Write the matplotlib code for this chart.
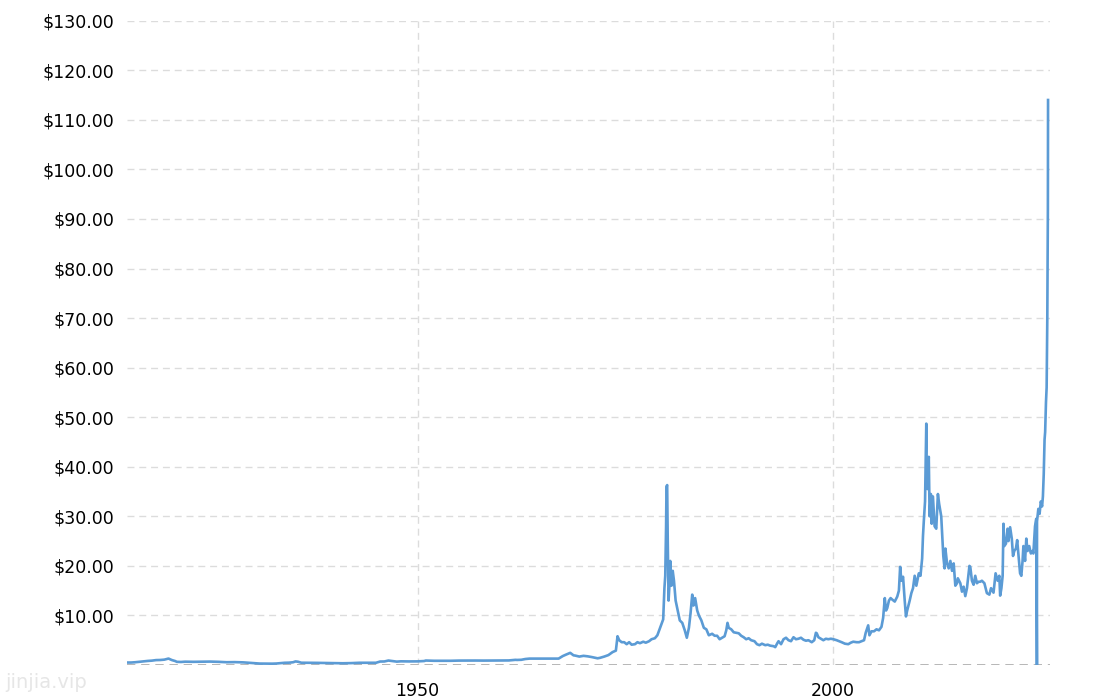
import matplotlib.pyplot as plt
import numpy as np

# silver price history (nominal, USD/oz)
anos = [1915.0, 1915.5, 1916.0, 1916.5, 1917.0, 1917.5, 1918.0, 1918.5, 1919.0, 1919.5,
        1920.0, 1920.4, 1920.8, 1921.0, 1921.5, 1922.0, 1923.0, 1924.0, 1925.0, 1926.0,
        1927.0, 1928.0, 1929.0, 1930.0, 1930.5, 1931.0, 1931.5, 1932.0, 1932.5, 1933.0,
        1933.5, 1934.0, 1934.5, 1935.0, 1935.3, 1935.6, 1936.0, 1937.0, 1938.0, 1939.0,
        1940.0, 1941.0, 1942.0, 1943.0, 1944.0, 1945.0, 1945.5, 1946.0, 1946.5, 1947.0,
        1947.5, 1948.0, 1949.0, 1950.0, 1950.8, 1951.0, 1952.0, 1953.0, 1954.0, 1955.0,
        1956.0, 1957.0, 1958.0, 1959.0, 1960.0, 1961.0, 1961.8, 1962.0, 1962.5, 1963.0,
        1963.5, 1964.0, 1965.0, 1966.0, 1967.0, 1967.5, 1967.9, 1968.4, 1968.8, 1969.0,
        1969.5, 1970.0, 1970.5, 1971.0, 1971.7, 1972.0, 1972.5, 1973.0, 1973.5, 1973.9,
        1974.1, 1974.3, 1974.6, 1974.9, 1975.2, 1975.5, 1975.8, 1976.2, 1976.5, 1976.8,
        1977.2, 1977.5, 1977.9, 1978.2, 1978.6, 1978.9, 1979.3, 1979.6, 1979.75, 1979.85,
        1979.95, 1980.0, 1980.08, 1980.15, 1980.25, 1980.35, 1980.45, 1980.6, 1980.75, 1980.9,
        1981.1, 1981.35, 1981.6, 1981.9, 1982.2, 1982.45, 1982.7, 1982.9, 1983.1, 1983.25,
        1983.45, 1983.7, 1983.9, 1984.2, 1984.5, 1984.8, 1985.1, 1985.5, 1985.8, 1986.1,
        1986.4, 1986.8, 1987.0, 1987.2, 1987.35, 1987.5, 1987.8, 1988.1, 1988.4, 1988.7,
        1989.0, 1989.3, 1989.6, 1989.9, 1990.2, 1990.6, 1990.9, 1991.2, 1991.5, 1991.9,
        1992.2, 1992.5, 1992.9, 1993.1, 1993.35, 1993.5, 1993.8, 1994.1, 1994.4, 1994.7,
        1995.0, 1995.3, 1995.6, 1995.9, 1996.2, 1996.5, 1996.8, 1997.1, 1997.5, 1997.8,
        1998.0, 1998.1, 1998.3, 1998.6, 1998.9, 1999.2, 1999.5, 1999.8, 2000.1, 2000.5,
        2000.8, 2001.1, 2001.5, 2001.9, 2002.2, 2002.5, 2002.9, 2003.2, 2003.5, 2003.8,
        2004.0, 2004.3, 2004.45, 2004.7, 2005.0, 2005.3, 2005.6, 2005.9, 2006.1, 2006.3,
        2006.45, 2006.6, 2006.8, 2007.0, 2007.2, 2007.5, 2007.8, 2008.0, 2008.15, 2008.3,
        2008.5, 2008.7, 2008.85, 2009.0, 2009.3, 2009.5, 2009.7, 2009.9, 2010.1, 2010.4,
        2010.6, 2010.8, 2010.9, 2011.0, 2011.15, 2011.3, 2011.35, 2011.45, 2011.6, 2011.7,
        2011.85, 2011.95, 2012.1, 2012.3, 2012.5, 2012.7, 2012.85, 2013.0, 2013.1, 2013.35,
        2013.5, 2013.6, 2013.8, 2014.0, 2014.2, 2014.4, 2014.6, 2014.8, 2015.0, 2015.1,
        2015.4, 2015.6, 2015.8, 2016.0, 2016.2, 2016.5, 2016.6, 2016.8, 2017.0, 2017.2,
        2017.4, 2017.6, 2017.8, 2018.0, 2018.3, 2018.6, 2018.9, 2019.1, 2019.4, 2019.65,
        2019.9, 2020.1, 2020.2, 2020.35, 2020.5, 2020.6, 2020.7, 2020.9, 2021.1, 2021.2,
        2021.4, 2021.6, 2021.75, 2021.9, 2022.1, 2022.25, 2022.45, 2022.6, 2022.75, 2022.9,
        2023.0, 2023.2, 2023.35, 2023.5, 2023.7, 2023.9, 2024.1, 2024.2, 2024.4, 2024.55,
        2024.63, 2024.64, 2024.8, 2024.95, 2025.1, 2025.25, 2025.35, 2025.45, 2025.55, 2025.62,
        2025.72, 2025.8, 2025.88, 2025.93, 2025.95, 2025.97]

precos = [0.50, 0.50, 0.56, 0.65, 0.72, 0.82, 0.88, 0.99, 1.01, 1.08,
          1.30, 1.00, 0.80, 0.64, 0.61, 0.67, 0.64, 0.66, 0.69, 0.64,
          0.56, 0.58, 0.53, 0.40, 0.34, 0.29, 0.28, 0.29, 0.27, 0.30,
          0.37, 0.45, 0.47, 0.55, 0.72, 0.66, 0.46, 0.45, 0.43, 0.40,
          0.35, 0.35, 0.38, 0.45, 0.45, 0.45, 0.70, 0.71, 0.90, 0.80,
          0.68, 0.74, 0.72, 0.73, 0.80, 0.90, 0.85, 0.85, 0.85, 0.89,
          0.90, 0.90, 0.89, 0.91, 0.91, 0.92, 1.04, 1.02, 1.05, 1.21,
          1.29, 1.29, 1.29, 1.29, 1.29, 1.80, 2.10, 2.45, 1.95, 1.90,
          1.70, 1.85, 1.75, 1.60, 1.35, 1.45, 1.70, 2.00, 2.60, 2.90,
          5.80, 5.00, 4.60, 4.60, 4.20, 4.60, 4.10, 4.20, 4.60, 4.40,
          4.70, 4.50, 4.80, 5.20, 5.40, 6.00, 7.80, 9.20, 15.5, 18.0,
          28.0, 36.0, 36.3, 25.0, 13.0, 16.0, 21.0, 16.0, 19.0, 17.0,
          13.0, 11.0, 9.0, 8.5, 7.0, 5.5, 7.5, 10.5, 14.2, 12.0,
          13.5, 11.0, 10.0, 9.0, 7.5, 7.2, 6.0, 6.3, 5.9, 5.9,
          5.2, 5.6, 5.8, 7.0, 8.5, 7.5, 7.2, 6.6, 6.5, 6.4,
          5.9, 5.6, 5.2, 5.4, 5.0, 4.8, 4.2, 4.0, 4.3, 4.0,
          4.1, 3.9, 3.8, 3.6, 4.4, 4.8, 4.2, 5.2, 5.5, 5.0,
          4.8, 5.6, 5.2, 5.3, 5.5, 5.1, 4.9, 5.0, 4.6, 5.0,
          6.5, 6.4, 5.6, 5.3, 5.0, 5.3, 5.2, 5.3, 5.2, 5.0,
          4.8, 4.6, 4.3, 4.2, 4.5, 4.7, 4.6, 4.6, 4.8, 5.0,
          6.5, 8.0, 6.0, 6.8, 6.8, 7.2, 7.0, 7.7, 9.5, 13.5,
          11.0, 11.5, 13.0, 13.5, 13.2, 12.8, 13.8, 15.0, 19.8, 17.0,
          17.8, 13.0, 9.8, 11.0, 13.0, 14.5, 15.5, 18.0, 16.0, 18.5,
          18.0, 21.5, 26.0, 29.0, 33.0, 48.7, 36.0, 35.5, 42.0, 30.0,
          34.5, 28.5, 34.0, 28.0, 27.5, 34.5, 32.5, 31.0, 30.0, 22.0,
          19.5, 23.5, 20.5, 19.5, 21.0, 19.0, 20.5, 16.0, 16.5, 17.5,
          16.5, 14.8, 15.8, 13.9, 15.5, 20.0, 19.8, 17.0, 16.2, 18.0,
          16.5, 16.8, 16.8, 17.0, 16.5, 14.5, 14.2, 15.5, 14.6, 18.5,
          17.0, 18.0, 14.0, 15.5, 18.0, 28.5, 24.0, 24.5, 27.5, 25.0,
          27.8, 25.5, 22.0, 23.0, 23.5, 25.2, 21.5, 18.5, 18.0, 21.0,
          24.0, 21.0, 25.5, 23.0, 24.0, 22.5, 23.0, 22.5, 28.0, 29.5,
          0.0, 29.0, 31.5, 30.5, 33.0, 32.0, 34.0, 38.5, 45.5, 47.0,
          53.0, 56.0, 70.0, 88.5, 92.0, 114.0]

valores_y = np.arange(10, 131, 10)
anos_x = [1950, 2000]

fig = plt.figure(figsize=(11.1, 7.0), dpi=100)
ax = fig.add_axes([127/1110, 35/700, 923/1110, 644.3/700])

ax.plot(anos, precos, color='#5b9bd5', lw=1.9, solid_joinstyle='round')

ax.set_xlim(1915.0, 1915.0 + 923/8.3)
ax.set_ylim(0, 130)

for v in valores_y:
    ax.axhline(v, color='#dcdcdc', lw=1, ls=(0, (5, 3.5)), zorder=0)
for a in anos_x:
    ax.axvline(a, color='#dcdcdc', lw=1, ls=(0, (5, 3.5)), zorder=0)
ax.axhline(0, color='#aaaaaa', lw=1.2, ls=(0, (5, 3.5)), zorder=0)

ax.set_yticks(valores_y)
ax.set_yticklabels(['${:.2f}'.format(v) for v in valores_y])
ax.set_xticks(anos_x)
ax.set_xticklabels([str(a) for a in anos_x])
ax.tick_params(axis='y', length=0, pad=9, labelsize=12.5, colors='black')
ax.tick_params(axis='x', length=0, pad=12, labelsize=12.5, colors='black')

for s in ax.spines.values():
    s.set_visible(False)

fig.text(5/1110, 1 - 682/700, 'jinjia.vip', fontsize=14, color='#e6e6e6',
         ha='left', va='center')

fig.savefig('out.png', dpi=100)
